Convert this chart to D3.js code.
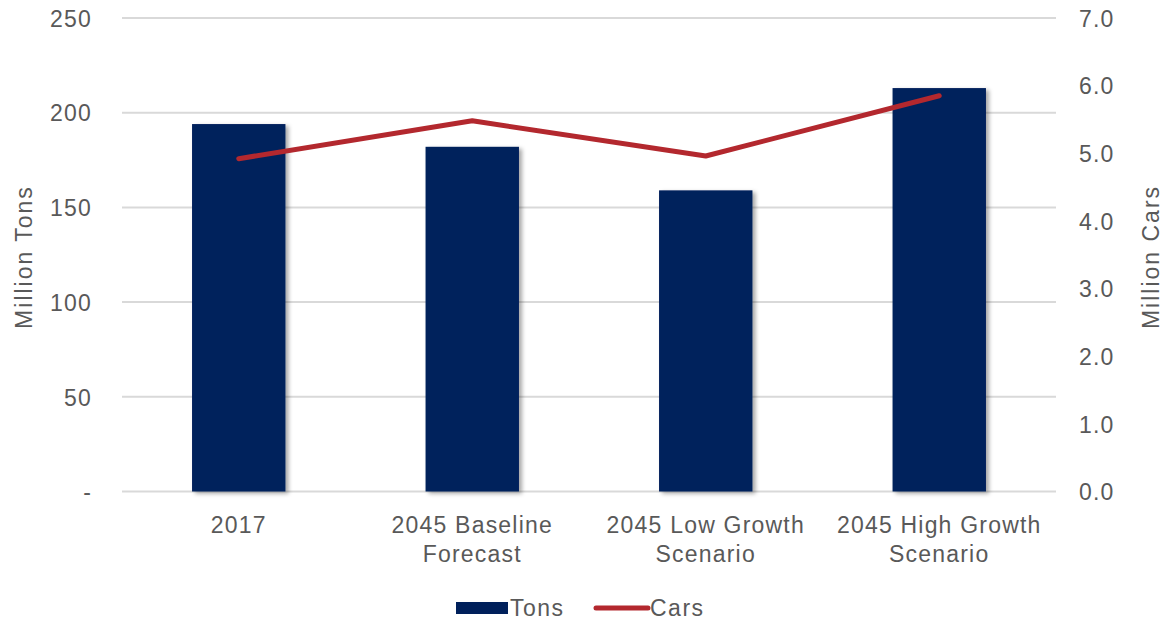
<!DOCTYPE html>
<html>
<head>
<meta charset="utf-8">
<script src="https://cdn.jsdelivr.net/npm/d3@7"></script>
<style>
  html, body { margin: 0; padding: 0; background: #fff; }
  svg text { font-family: "Liberation Sans", Arial, sans-serif; fill: #595959; }
</style>
</head>
<body>
<svg id="chart" width="1166" height="623"></svg>
<script>
// Freight outlook: tonnage (bars, left axis) and carloads (line, right axis)
const categories = [
  ["2017"],
  ["2045 Baseline", "Forecast"],
  ["2045 Low Growth", "Scenario"],
  ["2045 High Growth", "Scenario"]
];
const tons = [194, 182, 159, 213];        // million tons
const cars = [4.92, 5.48, 4.96, 5.85];    // million cars
const tonTicks = [0, 50, 100, 150, 200, 250];
const carTicks = [0, 1, 2, 3, 4, 5, 6, 7];

const svg = d3.select("#chart");
const plot = { left: 122, right: 1056, top: 18, bottom: 491.5 };

const keys = categories.map(c => c.join(" "));
const x = d3.scaleBand().domain(keys).range([plot.left, plot.right])
  .paddingInner(0.6).paddingOuter(0.3);
const yL = d3.scaleLinear().domain([0, 250]).range([plot.bottom, plot.top]);
const yR = d3.scaleLinear().domain([0, 7]).range([plot.bottom, plot.top]);

// soft shadow behind the bars
const defs = svg.append("defs");
const f = defs.append("filter").attr("id", "shadow")
  .attr("x", "-10%").attr("y", "-10%").attr("width", "130%").attr("height", "130%");
f.append("feDropShadow").attr("dx", 3).attr("dy", 2).attr("stdDeviation", 2.2)
  .attr("flood-color", "#000").attr("flood-opacity", 0.35);

// gridlines
svg.append("g").selectAll("line").data(tonTicks).join("line")
  .attr("x1", plot.left).attr("x2", plot.right)
  .attr("y1", d => yL(d)).attr("y2", d => yL(d))
  .attr("stroke", "#d9d9d9").attr("stroke-width", 2);

const labelStyle = sel => sel.style("font-size", "23px").style("letter-spacing", "1.2px");

// left axis
const axL = svg.append("g").attr("transform", `translate(${plot.left},0)`)
  .call(d3.axisLeft(yL).tickValues(tonTicks).tickSize(0).tickPadding(30)
    .tickFormat(d => d === 0 ? "-" : d3.format("d")(d)));
axL.select(".domain").remove();
axL.selectAll("text").call(labelStyle).attr("dy", "0.36em");

// right axis
const axR = svg.append("g").attr("transform", `translate(${plot.right},0)`)
  .call(d3.axisRight(yR).tickValues(carTicks).tickSize(0).tickPadding(23)
    .tickFormat(d3.format(".1f")));
axR.select(".domain").remove();
axR.selectAll("text").call(labelStyle).attr("dy", "0.36em");

// bars
svg.append("g").selectAll("rect").data(tons).join("rect")
  .attr("x", (d, i) => x(keys[i]))
  .attr("width", x.bandwidth())
  .attr("y", d => yL(d))
  .attr("height", d => yL(0) - yL(d))
  .attr("fill", "#00205b")
  .attr("filter", "url(#shadow)");

// line
const line = d3.line()
  .x((d, i) => x(keys[i]) + x.bandwidth() / 2)
  .y(d => yR(d));
svg.append("path").datum(cars)
  .attr("d", line)
  .attr("fill", "none")
  .attr("stroke", "#b3282e")
  .attr("stroke-width", 5)
  .attr("stroke-linecap", "round")
  .attr("stroke-linejoin", "round");

// category labels
const cat = svg.append("g").selectAll("text").data(categories).join("text")
  .attr("text-anchor", "middle")
  .attr("x", (d, i) => x(keys[i]) + x.bandwidth() / 2)
  .attr("y", 533)
  .call(labelStyle);
cat.selectAll("tspan").data(d => d).join("tspan")
  .attr("x", function () { return d3.select(this.parentNode).attr("x"); })
  .attr("dy", (d, i) => i === 0 ? 0 : 29)
  .text(d => d);

// axis titles
svg.append("text").attr("transform", "translate(32,257) rotate(-90)")
  .attr("text-anchor", "middle").call(labelStyle).style("letter-spacing", "2px")
  .text("Million Tons");
svg.append("text").attr("transform", "translate(1159,257) rotate(-90)")
  .attr("text-anchor", "middle").call(labelStyle).style("letter-spacing", "2px")
  .text("Million Cars");

// legend
const lg = svg.append("g");
lg.append("rect").attr("x", 456).attr("y", 602).attr("width", 52).attr("height", 12)
  .attr("fill", "#00205b");
lg.append("text").attr("x", 510).attr("y", 608).attr("dy", "0.36em")
  .call(labelStyle).style("letter-spacing", "1.5px").text("Tons");
lg.append("line").attr("x1", 596).attr("x2", 648).attr("y1", 608).attr("y2", 608)
  .attr("stroke", "#b3282e").attr("stroke-width", 5).attr("stroke-linecap", "round");
lg.append("text").attr("x", 650).attr("y", 608).attr("dy", "0.36em")
  .call(labelStyle).style("letter-spacing", "1.5px").text("Cars");
</script>
</body>
</html>
